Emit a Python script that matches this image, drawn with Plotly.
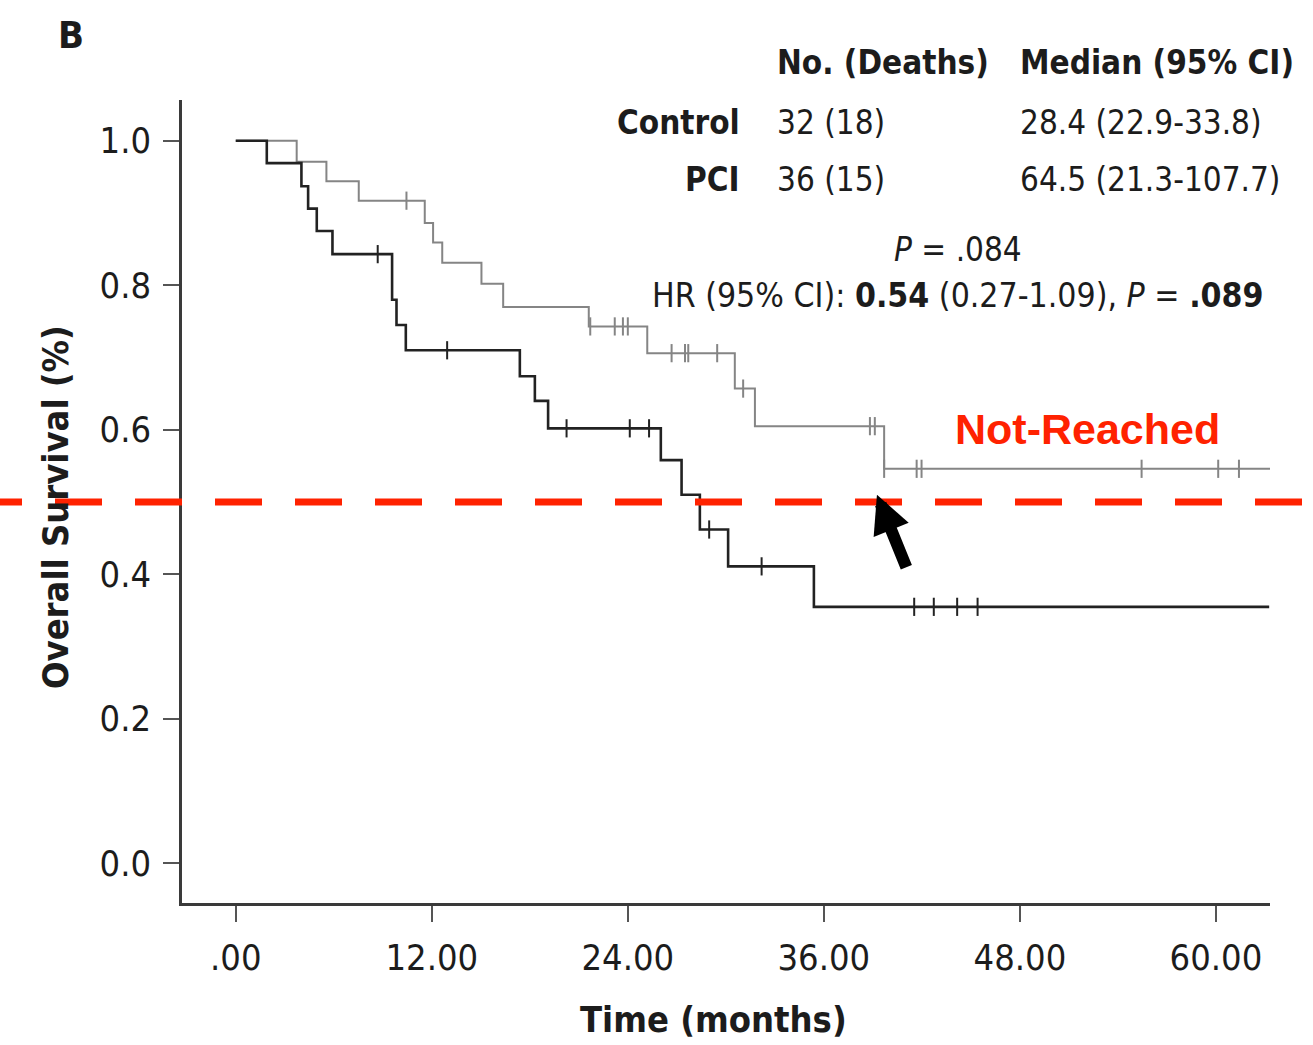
import numpy as np
import plotly.graph_objects as go

# ---- Kaplan-Meier estimates (months, survival probability) ----
# Control arm: event times and survival after each event
ctrl_times = [1.90, 4.02, 4.43, 4.96, 5.92, 9.57, 9.84, 10.41, 17.39, 18.31,
              19.12, 26.02, 27.29, 28.41, 30.14, 35.39]
ctrl_surv = [0.969, 0.937, 0.906, 0.875, 0.843, 0.780, 0.745, 0.710, 0.674,
             0.640, 0.602, 0.558, 0.510, 0.462, 0.411, 0.355]
ctrl_censor = [8.69, 12.94, 20.25, 24.12, 25.30, 28.98, 32.19, 41.53, 42.73,
               44.16, 45.41]
ctrl_end = 63.26

# PCI arm
pci_times = [3.73, 5.55, 7.53, 11.57, 12.08, 12.64, 15.04, 16.37, 21.61,
             25.19, 30.55, 31.78, 39.69]
pci_surv = [0.971, 0.944, 0.917, 0.886, 0.859, 0.831, 0.802, 0.770, 0.743,
            0.706, 0.657, 0.605, 0.546]
pci_censor = [10.45, 21.70, 23.20, 23.70, 24.00, 26.68, 27.50, 27.70, 29.47,
              31.06, 38.82, 39.12, 39.69, 41.68, 41.98, 55.45, 60.14, 61.41]
pci_end = 63.35

median_level = 0.5

x_tickvals = [0, 12, 24, 36, 48, 60]
x_ticktext = [".00", "12.00", "24.00", "36.00", "48.00", "60.00"]
y_tickvals = [0.0, 0.2, 0.4, 0.6, 0.8, 1.0]
y_ticktext = ["0.0", "0.2", "0.4", "0.6", "0.8", "1.0"]

table_header = ["No. (Deaths)", "Median (95% CI)"]
table_groups = ["Control", "PCI"]
table_counts = ["32 (18)", "36 (15)"]
table_medians = ["28.4 (22.9-33.8)", "64.5 (21.3-107.7)"]

CTRL_COLOR = "#222222"
PCI_COLOR = "#858585"
RED = "#ff2200"
TEXT = "#1c1c1c"
FONT = "DejaVu Sans Condensed, Liberation Sans Narrow, DejaVu Sans, sans-serif"

W, H = 1313, 1045
M_L, M_R, M_T, M_B = 182, 43, 100, 142
PW, PH = W - M_L - M_R, H - M_T - M_B


def px(xpix):
    """pixel column -> paper x"""
    return (xpix - M_L) / PW


def py(ypix):
    """pixel row -> paper y"""
    return (H - M_B - ypix) / PH


def step_xy(times, surv, end):
    return [0.0] + list(times) + [end], [1.0] + list(surv) + [surv[-1]]


def surv_at(times, surv, t):
    i = int(np.searchsorted(times, t, side="right"))
    return 1.0 if i == 0 else surv[i - 1]


fig = go.Figure()

for times, surv, end, cens, color, width, name in [
    (pci_times, pci_surv, pci_end, pci_censor, PCI_COLOR, 2.0, "PCI"),
    (ctrl_times, ctrl_surv, ctrl_end, ctrl_censor, CTRL_COLOR, 2.6, "Control"),
]:
    sx, sy = step_xy(times, surv, end)
    fig.add_trace(go.Scatter(
        x=sx, y=sy, mode="lines", line=dict(color=color, width=width, shape="hv"),
        name=name, showlegend=False, hoverinfo="skip"))
    fig.add_trace(go.Scatter(
        x=cens, y=[surv_at(times, surv, t) for t in cens], mode="markers",
        marker=dict(symbol="line-ns-open", size=13, color=color,
                    line=dict(color=color, width=2)),
        showlegend=False, hoverinfo="skip"))

# median reference line across the whole panel
fig.add_shape(type="line", xref="paper", yref="y", x0=px(-25), x1=px(1330),
              y0=median_level, y1=median_level, layer="above",
              line=dict(color=RED, width=7, dash="47px,33px"))

ann = []


def text(s, x, y, size=33, bold=False, xanchor="left", color=TEXT,
         family=FONT, angle=0):
    ann.append(dict(
        text=f"<b>{s}</b>" if bold else s, xref="paper", yref="paper",
        x=px(x), y=py(y), xanchor=xanchor, yanchor="middle", showarrow=False,
        textangle=angle, font=dict(family=family, size=size, color=color)))


text("B", 56, 35, size=38, bold=True)
text(table_header[0], 775, 62, bold=True)
text(table_header[1], 1018, 62, bold=True)
for row_y, g, c, m in zip([122, 180], table_groups, table_counts, table_medians):
    text(g, 742, row_y, bold=True, xanchor="right")
    text(c, 775, row_y)
    text(m, 1018, row_y)
text("<i>P</i> = .084", 958, 250, xanchor="center")
text("HR (95% CI): <b>0.54</b> (0.27-1.09), <i>P</i> = <b>.089</b>",
     958, 295, size=33.5, xanchor="center")
text("Not-Reached", 953, 429, size=43, bold=True, color=RED,
     family="Liberation Sans, Arial, sans-serif")
text("Time (months)", 713, 1020, size=36, bold=True, xanchor="center")
text("Overall Survival (%)", 55, 507, size=36, bold=True, xanchor="center",
     angle=-90)

# arrow pointing at where the PCI curve would cross the median
ann.append(dict(
    x=39.25, y=0.51, xref="x", yref="y", text="", showarrow=True,
    ax=30, ay=74, axref="pixel", ayref="pixel",
    arrowhead=2, arrowsize=0.63, arrowwidth=12, arrowcolor="#000000",
    standoff=0))

fig.update_layout(
    width=W, height=H, margin=dict(l=M_L, r=M_R, t=M_T, b=M_B),
    paper_bgcolor="white", plot_bgcolor="white",
    annotations=ann, showlegend=False,
    xaxis=dict(range=[-3.29, 63.31], tickvals=x_tickvals, ticktext=x_ticktext,
               showgrid=False, zeroline=False, showline=True,
               linecolor="#3a3a3a", linewidth=2.5, ticks="outside", ticklen=16,
               tickwidth=2, tickcolor="#555555", ticklabelstandoff=5,
               tickfont=dict(family=FONT, size=36, color=TEXT)),
    yaxis=dict(range=[-0.0548, 1.0563], tickvals=y_tickvals, ticktext=y_ticktext,
               showgrid=False, zeroline=False, showline=True,
               linecolor="#3a3a3a", linewidth=2.5, ticks="outside", ticklen=16,
               tickwidth=2, tickcolor="#555555", ticklabelstandoff=5,
               tickfont=dict(family=FONT, size=36, color=TEXT)),
)

fig.write_html("out.html")
